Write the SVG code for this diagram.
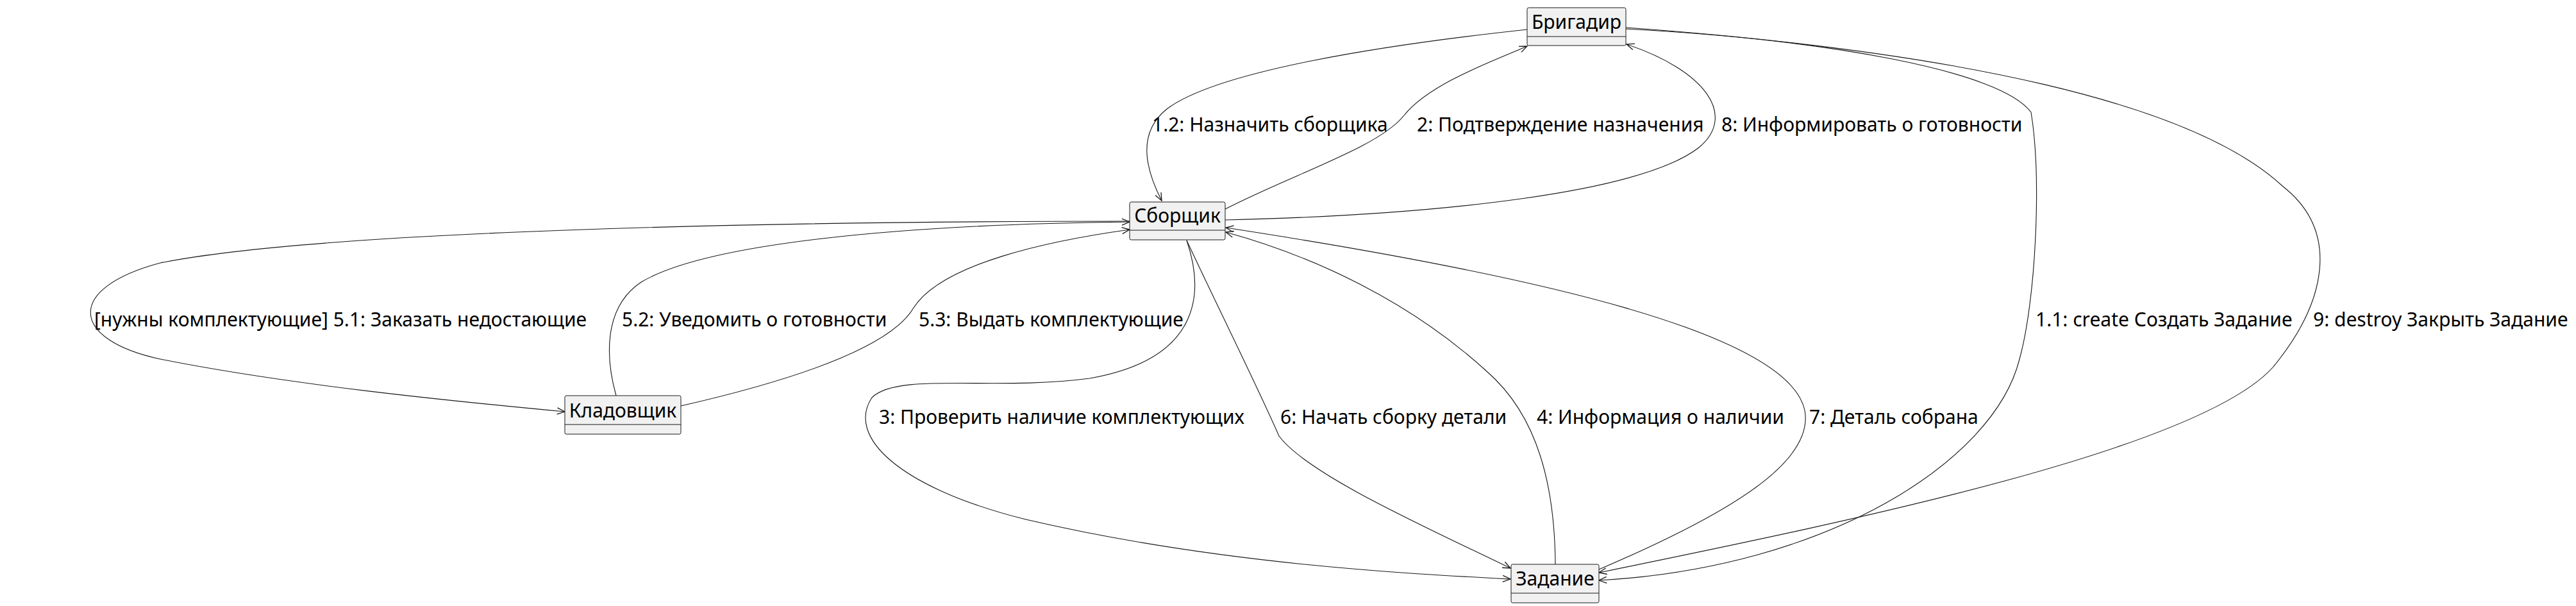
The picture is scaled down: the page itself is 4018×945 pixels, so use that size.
<svg xmlns="http://www.w3.org/2000/svg" width="4018" height="945" viewBox="0 0 4018 945">
<style>
.box{fill:#F1F1F1;stroke:#181818;stroke-width:1}
.div{stroke:#181818;stroke-width:1}
.name{font-family:"Noto Sans","Open Sans",sans-serif;font-size:30px;fill:#000;text-anchor:middle}
.lbl{font-family:"Noto Sans","Open Sans",sans-serif;font-size:30px;fill:#000}
.e{fill:none;stroke:#181818;stroke-width:1.1}
</style>
<defs>
<marker id="ah" viewBox="-14 -7 16 14" refX="0" refY="0" markerWidth="16" markerHeight="14" markerUnits="userSpaceOnUse" orient="auto">
<path d="M-12,-5 L0,0 L-12,5" fill="none" stroke="#181818" stroke-width="1.3"/>
</marker>
</defs>
<rect width="4018" height="945" fill="#FFFFFF"/>
<g id="connectors">
<path id="e12" class="e" marker-end="url(#ah)" d="M2382,46 C2160,70 1900,110 1820,170 C1770,210 1790,270 1812,313"/>
<path id="e2" class="e" marker-end="url(#ah)" d="M1911,326 C2020,270 2150,230 2190,180 C2230,130 2330,95 2382,72"/>
<path id="e8" class="e" marker-end="url(#ah)" d="M1911,343 C2250,335 2560,300 2650,230 C2710,180 2660,110 2537,69"/>
<path id="e11" class="e" marker-end="url(#ah)" d="M2536,45 C2850,62 3120,110 3168,175 C3185,280 3175,470 3150,560 C3110,720 2850,885 2494,905"/>
<path id="e9" class="e" marker-end="url(#ah)" d="M2536,43 C3050,80 3420,160 3560,290 C3650,360 3630,470 3545,573 C3430,700 2900,810 2494,893"/>
<path id="e51" class="e" marker-end="url(#ah)" d="M1762,345 C1200,345 500,360 250,410 C100,450 110,530 250,560 C450,600 700,625 881,642"/>
<path id="e52" class="e" marker-end="url(#ah)" d="M961,617 C945,560 940,480 1000,440 C1100,380 1400,350 1762,346"/>
<path id="e53" class="e" marker-end="url(#ah)" d="M1062,633 C1250,590 1390,540 1425,480 C1470,410 1640,375 1762,358"/>
<path id="e3" class="e" marker-end="url(#ah)" d="M1851,375 C1880,460 1870,560 1700,590 C1550,610 1400,580 1360,620 C1320,680 1400,760 1600,810 C1900,880 2200,895 2356,903"/>
<path id="e6" class="e" marker-end="url(#ah)" d="M1851,375 C1900,480 1960,600 1995,680 C2040,740 2220,820 2356,886"/>
<path id="e4" class="e" marker-end="url(#ah)" d="M2426,880 C2425,760 2400,650 2320,580 C2200,470 2050,400 1912,362"/>
<path id="e7" class="e" marker-end="url(#ah)" d="M2494,888 C2700,800 2830,720 2815,640 C2790,520 2400,430 1912,355"/>
</g>
<g id="labels">
<text class="lbl" x="1797" y="205">1.2: Назначить сборщика</text>
<text class="lbl" x="2210" y="205">2: Подтверждение назначения</text>
<text class="lbl" x="2685" y="205">8: Информировать о готовности</text>
<text class="lbl" x="147" y="509">[нужны комплектующие] 5.1: Заказать недостающие</text>
<text class="lbl" x="970" y="509">5.2: Уведомить о готовности</text>
<text class="lbl" x="1433" y="509">5.3: Выдать комплектующие</text>
<text class="lbl" x="3175" y="509">1.1: create Создать Задание</text>
<text class="lbl" x="3608" y="509">9: destroy Закрыть Задание</text>
<text class="lbl" x="1371" y="661">3: Проверить наличие комплектующих</text>
<text class="lbl" x="1997" y="661">6: Начать сборку детали</text>
<text class="lbl" x="2397" y="661">4: Информация о наличии</text>
<text class="lbl" x="2822" y="661">7: Деталь собрана</text>
</g>
<g id="brigadir">
<rect class="box" x="2382" y="12" width="154" height="59" rx="2.5"/>
<line class="div" x1="2382" y1="57" x2="2536" y2="57"/>
<text class="name" x="2459" y="45">Бригадир</text>
</g>
<g id="sborshchik">
<rect class="box" x="1762" y="315" width="149" height="59" rx="2.5"/>
<line class="div" x1="1762" y1="359" x2="1911" y2="359"/>
<text class="name" x="1836.5" y="347">Сборщик</text>
</g>
<g id="kladovshchik">
<rect class="box" x="881" y="617" width="181" height="60" rx="2.5"/>
<line class="div" x1="881" y1="662" x2="1062" y2="662"/>
<text class="name" x="971.5" y="651">Кладовщик</text>
</g>
<g id="zadanie">
<rect class="box" x="2357" y="880" width="137" height="60" rx="2.5"/>
<line class="div" x1="2357" y1="925" x2="2494" y2="925"/>
<text class="name" x="2425.5" y="913">Задание</text>
</g>
</svg>
